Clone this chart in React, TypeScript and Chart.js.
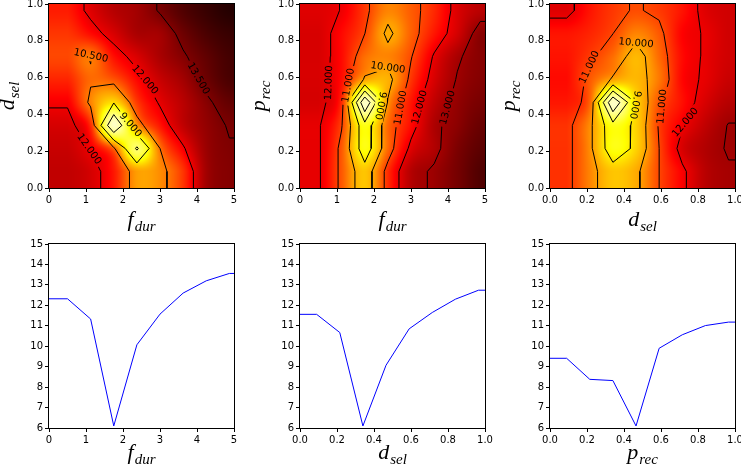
import React, { useEffect, useRef } from 'react';
import { Chart, registerables } from 'chart.js';
Chart.register(...registerables);

// ---------- data ----------
// grid nodes of the explored parameters
const fdurNodes = [0.5, 1.125, 1.75, 2.375, 3.0, 3.625, 4.25, 4.875];
const fracNodes = [0.09, 0.215, 0.34, 0.465, 0.59, 0.715, 0.84, 0.965];

// heat maps: rows = y nodes (bottom -> top), columns = x nodes (left -> right)
const gridFdurDsel = [
  [12.6, 12.34, 11.56, 10.0, 10.2, 11.2, 13.0, 13.4],
  [12.5, 11.95, 10.67, 7.3, 10.5, 11.9, 13.1, 13.45],
  [12.32, 11.33, 6.1, 10.07, 11.57, 12.6, 13.2, 13.56],
  [11.9, 10.3, 9.07, 11.15, 12.1, 12.7, 13.35, 13.9],
  [11.4, 10.6, 10.85, 11.75, 12.5, 13.0, 13.75, 14.3],
  [11.0, 10.45, 11.65, 12.28, 12.9, 13.4, 13.95, 14.4],
  [11.2, 11.7, 12.3, 12.9, 13.0, 13.75, 14.3, 14.6],
  [11.5, 12.2, 12.74, 13.0, 13.58, 14.2, 14.6, 14.9],
];
const gridFdurPrec = [
  [12.1, 10.8, 9.41, 11.3, 12.76, 13.1, 13.6, 14.2],
  [12.1, 10.8, 8.38, 10.6, 12.2, 12.8, 13.5, 14.0],
  [12.1, 11.05, 8.32, 10.6, 11.7, 12.85, 13.3, 13.8],
  [12.32, 11.33, 6.1, 10.07, 11.57, 12.6, 13.2, 13.56],
  [12.3, 11.67, 9.9, 9.7, 11.2, 12.3, 13.05, 13.4],
  [12.3, 11.71, 10.56, 10.3, 10.95, 12.08, 12.9, 13.35],
  [12.3, 11.73, 11.01, 9.8, 10.7, 11.56, 12.35, 13.33],
  [12.2, 11.98, 11.18, 10.3, 10.75, 11.35, 12.25, 12.7],
];
const gridDselPrec = [
  [11.25, 10.3, 9.41, 9.8, 11.0, 11.85, 12.7, 12.95],
  [11.25, 10.2, 8.38, 9.2, 11.0, 12.3, 12.8, 13.05],
  [11.25, 10.2, 8.32, 9.2, 11.1, 11.95, 12.6, 13.03],
  [11.56, 10.67, 6.1, 9.07, 10.85, 11.65, 12.3, 12.74],
  [11.7, 10.8, 9.9, 9.6, 10.43, 11.75, 12.1, 12.5],
  [11.6, 11.16, 10.56, 9.6, 10.6, 11.7, 12.08, 12.4],
  [11.6, 11.4, 11.01, 10.3, 10.8, 11.8, 12.05, 12.4],
  [12.2, 11.6, 11.18, 10.93, 11.15, 11.6, 12.2, 12.4],
];

const levelsFdurDsel = [6.0, 7.5, 9.0, 10.5, 12.0, 13.5];
const levelsFdurPrec = [7, 8, 9, 10, 11, 12, 13];
const levelsDselPrec = [7, 8, 9, 10, 11, 12, 13];

// contour label anchors: [level, x, y, rotation in degrees]
const labelsFdurDsel = [
  [10.5, 1.14, 0.72, 12], [12, 2.41, 0.567, 50], [13.5, 4.03, 0.594, 60],
  [12, 1.14, 0.22, 55], [9, 2.18, 0.34, 50],
];
const labelsFdurPrec = [
  [12, 0.67, 0.576, -88], [11, 1.16, 0.567, -80], [10, 2.36, 0.7, 8], [9, 2.25, 0.44, 100],
  [11, 2.65, 0.44, -80], [12, 3.17, 0.44, -75], [13, 3.95, 0.44, -75],
];
const labelsDselPrec = [
  [10, 0.46, 0.81, 5], [11, 0.205, 0.66, -65], [9, 0.47, 0.45, 100],
  [11, 0.616, 0.44, -85], [12, 0.777, 0.335, -50],
];

// profiles through the optimum (bottom row)
const profileFdur = [12.32, 11.33, 6.1, 10.07, 11.57, 12.6, 13.2, 13.56];
const profileDsel = [11.56, 10.67, 6.1, 9.07, 10.85, 11.65, 12.3, 12.74];
const profilePrec = [9.41, 8.38, 8.32, 6.1, 9.9, 10.56, 11.01, 11.18];

// value -> position in the (reversed) "hot" colour map
const colorValues = [6, 8, 10, 12, 13.5, 15];
const colorPositions = [0.95, 0.8, 0.6, 0.34, 0.17, 0.03];

// ---------- layout ----------
const L = 58, T = 12, R = 14, B = 46, PW = 185, PH = 184;
const colLefts = [49, 300, 550];
const rowTops = [4, 244];
const TICK_FONT = { family: 'DejaVu Sans', size: 10 };
const LABEL_FONT = '10px "DejaVu Sans"';

// ---------- helpers ----------
const clamp = (v, a, b) => Math.max(a, Math.min(b, v));

function hot(t) {
  const r = t < 0.365079 ? 0.0416 + (1 - 0.0416) * t / 0.365079 : 1;
  const g = t < 0.365079 ? 0 : t < 0.746032 ? (t - 0.365079) / (0.746032 - 0.365079) : 1;
  const b = t < 0.746032 ? 0 : (t - 0.746032) / (1 - 0.746032);
  return [r * 255, g * 255, b * 255];
}

function colorPos(v) {
  if (v <= colorValues[0]) return colorPositions[0];
  for (let i = 1; i < colorValues.length; i++) {
    if (v <= colorValues[i]) {
      const t = (v - colorValues[i - 1]) / (colorValues[i] - colorValues[i - 1]);
      return colorPositions[i - 1] + t * (colorPositions[i] - colorPositions[i - 1]);
    }
  }
  return colorPositions[colorPositions.length - 1];
}

function cubic(p0, p1, p2, p3, t) {
  return p1 + 0.5 * t * (p2 - p0 + t * (2 * p0 - 5 * p1 + 4 * p2 - p3 + t * (3 * (p1 - p2) + p3 - p0)));
}

function sample(grid, fx, fy) {
  const ny = grid.length, nx = grid[0].length;
  fx = clamp(fx, 0, nx - 1);
  fy = clamp(fy, 0, ny - 1);
  const ix = Math.min(Math.floor(fx), nx - 2), iy = Math.min(Math.floor(fy), ny - 2);
  const tx = fx - ix, ty = fy - iy;
  const g = (j, i) => grid[clamp(j, 0, ny - 1)][clamp(i, 0, nx - 1)];
  const rows = [];
  for (let m = -1; m <= 2; m++) {
    rows.push(cubic(g(iy + m, ix - 1), g(iy + m, ix), g(iy + m, ix + 1), g(iy + m, ix + 2), tx));
  }
  return cubic(rows[0], rows[1], rows[2], rows[3], ty);
}

function chain(segs) {
  const key = (p) => p[0].toFixed(9) + ',' + p[1].toFixed(9);
  const map = new Map();
  segs.forEach((s, i) => {
    for (const p of s) {
      const k = key(p);
      if (!map.has(k)) map.set(k, []);
      map.get(k).push(i);
    }
  });
  const used = new Array(segs.length).fill(false);
  const lines = [];
  for (let i = 0; i < segs.length; i++) {
    if (used[i]) continue;
    used[i] = true;
    const line = [segs[i][0], segs[i][1]];
    const extend = (atEnd) => {
      for (;;) {
        const p = atEnd ? line[line.length - 1] : line[0];
        const cands = (map.get(key(p)) || []).filter((k) => !used[k]);
        if (!cands.length) break;
        const k = cands[0];
        used[k] = true;
        const s = segs[k];
        const other = key(s[0]) === key(p) ? s[1] : s[0];
        if (atEnd) line.push(other); else line.unshift(other);
      }
    };
    extend(true);
    extend(false);
    lines.push(line);
  }
  return lines;
}

function contourLines(xs, ys, z, level) {
  const segs = [];
  const ip = (x1, y1, v1, x2, y2, v2) => {
    const t = (level - v1) / (v2 - v1);
    return [x1 + t * (x2 - x1), y1 + t * (y2 - y1)];
  };
  for (let j = 0; j < ys.length - 1; j++) {
    for (let i = 0; i < xs.length - 1; i++) {
      const v0 = z[j][i], v1 = z[j][i + 1], v2 = z[j + 1][i + 1], v3 = z[j + 1][i];
      const s0 = v0 >= level, s1 = v1 >= level, s2 = v2 >= level, s3 = v3 >= level;
      const e = [null, null, null, null];
      if (s0 !== s1) e[0] = ip(xs[i], ys[j], v0, xs[i + 1], ys[j], v1);
      if (s1 !== s2) e[1] = ip(xs[i + 1], ys[j], v1, xs[i + 1], ys[j + 1], v2);
      if (s3 !== s2) e[2] = ip(xs[i], ys[j + 1], v3, xs[i + 1], ys[j + 1], v2);
      if (s0 !== s3) e[3] = ip(xs[i], ys[j], v0, xs[i], ys[j + 1], v3);
      const idx = [0, 1, 2, 3].filter((k) => e[k]);
      if (idx.length === 2) segs.push([e[idx[0]], e[idx[1]]]);
      else if (idx.length === 4) {
        const c = (v0 + v1 + v2 + v3) / 4;
        if ((c >= level) === s0) { segs.push([e[0], e[1]]); segs.push([e[2], e[3]]); }
        else { segs.push([e[3], e[0]]); segs.push([e[1], e[2]]); }
      }
    }
  }
  return chain(segs);
}

function drawMath(ctx, main, sub, x, y, vertical) {
  ctx.save();
  ctx.fillStyle = '#000';
  ctx.textAlign = 'left';
  ctx.textBaseline = 'alphabetic';
  ctx.translate(x, y);
  if (vertical) ctx.rotate(-Math.PI / 2);
  const fm = 'italic 22px "Liberation Serif"', fs = 'italic 15px "Liberation Serif"';
  ctx.font = fm;
  const wm = ctx.measureText(main).width;
  ctx.font = fs;
  const ws = ctx.measureText(sub).width;
  const start = -(wm + ws + 1) / 2;
  ctx.font = fm;
  ctx.fillText(main, start, 0);
  ctx.font = fs;
  ctx.fillText(sub, start + wm + 1, 4.5);
  ctx.restore();
}

function axis(pos, min, max, step, fmt) {
  return {
    type: 'linear', position: pos, min, max,
    ticks: { stepSize: step, callback: (v) => fmt(v), color: '#000', font: TICK_FONT, padding: 2, maxRotation: 0, autoSkip: false },
    grid: { display: true, drawOnChartArea: false, drawTicks: true, tickLength: 4, tickColor: '#000', color: '#000' },
    border: { display: false },
    afterFit: (s) => { if (pos === 'left') s.width = L; else s.height = B; },
  };
}

const fmtInt = (v) => String(Math.round(v));
const fmt1 = (v) => Number(v).toFixed(1);

function framePlugin(xTitle, yTitle, xTitleOffset) {
  return {
    id: 'frameTitles',
    afterDraw(chart) {
      const { ctx, chartArea: a } = chart;
      ctx.save();
      ctx.strokeStyle = '#000';
      ctx.lineWidth = 1;
      ctx.strokeRect(Math.round(a.left) - 0.5, Math.round(a.top) - 0.5, Math.round(a.right - a.left) + 1, Math.round(a.bottom - a.top) + 1);
      ctx.restore();
      const cx = (a.left + a.right) / 2, cy = (a.top + a.bottom) / 2;
      if (xTitle) drawMath(ctx, xTitle[0], xTitle[1], cx, a.bottom + xTitleOffset, false);
      if (yTitle) drawMath(ctx, yTitle[0], yTitle[1], a.left - 35, cy, true);
    },
  };
}

function heatConfig(spec) {
  const { xNodes, yNodes, grid, levels, labels, xMax, xStep, xFmt, xTitle, yTitle } = spec;
  const xs = [0, ...xNodes, xMax];
  const ys = [0, ...yNodes, 1];
  const padded = [grid[0], ...grid, grid[grid.length - 1]].map((r) => [r[0], ...r, r[r.length - 1]]);
  const lines = levels.map((lev) => contourLines(xs, ys, padded, lev));
  const datasets = [];
  lines.forEach((ls, k) => ls.forEach((ln) => datasets.push({
    label: String(levels[k]),
    data: ln.map((p) => ({ x: p[0], y: p[1] })),
    showLine: true, borderColor: '#000', borderWidth: 1, pointRadius: 0, fill: false, tension: 0,
  })));
  let placed = [];
  const dx = xNodes[1] - xNodes[0], dy = yNodes[1] - yNodes[0];
  const heatPlugin = {
    id: 'heat',
    beforeDatasetsDraw(chart) {
      const { ctx, chartArea: a, scales } = chart;
      const xS = scales.x, yS = scales.y;
      const w = Math.round(a.right - a.left), h = Math.round(a.bottom - a.top);
      const off = document.createElement('canvas');
      off.width = w; off.height = h;
      const octx = off.getContext('2d');
      const img = octx.createImageData(w, h);
      for (let py = 0; py < h; py++) {
        const yv = yS.getValueForPixel(a.top + py + 0.5);
        const fy = (yv - yNodes[0]) / dy;
        for (let px = 0; px < w; px++) {
          const xv = xS.getValueForPixel(a.left + px + 0.5);
          const fx = (xv - xNodes[0]) / dx;
          const v = sample(grid, fx, fy);
          const c = hot(clamp(colorPos(v), 0, 1));
          const o = (py * w + px) * 4;
          img.data[o] = c[0]; img.data[o + 1] = c[1]; img.data[o + 2] = c[2]; img.data[o + 3] = 255;
        }
      }
      octx.putImageData(img, 0, 0);
      ctx.drawImage(off, a.left, a.top);
      // label placement snapped onto the contour of the same level
      ctx.save();
      ctx.font = LABEL_FONT;
      placed = labels.map(([lev, lx, ly, rot]) => {
        const tx = xS.getPixelForValue(lx), ty = yS.getPixelForValue(ly);
        let best = null, bd = 24 * 24;
        const k = levels.indexOf(lev);
        for (const ln of lines[k] || []) {
          for (let i = 0; i < ln.length - 1; i++) {
            const ax = xS.getPixelForValue(ln[i][0]), ay = yS.getPixelForValue(ln[i][1]);
            const bx = xS.getPixelForValue(ln[i + 1][0]), by = yS.getPixelForValue(ln[i + 1][1]);
            const ddx = bx - ax, ddy = by - ay, l2 = ddx * ddx + ddy * ddy;
            const t = l2 ? clamp(((tx - ax) * ddx + (ty - ay) * ddy) / l2, 0, 1) : 0;
            const qx = ax + t * ddx, qy = ay + t * ddy;
            const d = (qx - tx) ** 2 + (qy - ty) ** 2;
            if (d < bd) { bd = d; best = [qx, qy]; }
          }
        }
        const [px, py] = best || [tx, ty];
        const text = lev.toFixed(3);
        return { px, py, ang: rot * Math.PI / 180, text, w: ctx.measureText(text).width };
      });
      ctx.restore();
    },
    beforeDatasetDraw(chart) {
      const { ctx, chartArea: a } = chart;
      ctx.save();
      ctx.beginPath();
      ctx.rect(a.left, a.top, a.right - a.left, a.bottom - a.top);
      for (const p of placed) {
        const hw = p.w / 2 + 2.5, hh = 5.5;
        const c = Math.cos(p.ang), s = Math.sin(p.ang);
        const pts = [[-hw, -hh], [hw, -hh], [hw, hh], [-hw, hh]].map(([u, v]) => [p.px + u * c - v * s, p.py + u * s + v * c]);
        ctx.moveTo(pts[0][0], pts[0][1]);
        for (let i = 1; i < 4; i++) ctx.lineTo(pts[i][0], pts[i][1]);
        ctx.closePath();
      }
      ctx.clip('evenodd');
    },
    afterDatasetDraw(chart) {
      chart.ctx.restore();
    },
    afterDatasetsDraw(chart) {
      const { ctx } = chart;
      for (const p of placed) {
        ctx.save();
        ctx.translate(p.px, p.py);
        ctx.rotate(p.ang);
        ctx.font = LABEL_FONT;
        ctx.fillStyle = '#000';
        ctx.textAlign = 'center';
        ctx.textBaseline = 'middle';
        ctx.fillText(p.text, 0, 0);
        ctx.restore();
      }
    },
  };
  return {
    type: 'scatter',
    data: { datasets },
    options: {
      responsive: false, animation: false, devicePixelRatio: 1, events: [],
      layout: { padding: { top: T, right: R, left: 0, bottom: 0 } },
      plugins: { legend: { display: false }, tooltip: { enabled: false } },
      scales: {
        x: axis('bottom', 0, xMax, xStep, xFmt),
        y: axis('left', 0, 1, 0.2, fmt1),
      },
    },
    plugins: [heatPlugin, framePlugin(xTitle, yTitle, 38)],
  };
}

function lineConfig(spec) {
  const { nodes, values, xMax, xStep, xFmt, xTitle } = spec;
  const xs = [0, ...nodes, xMax];
  const ys = [values[0], ...values, values[values.length - 1]];
  return {
    type: 'scatter',
    data: {
      datasets: [{
        data: xs.map((x, i) => ({ x, y: ys[i] })),
        showLine: true, borderColor: '#0000ff', borderWidth: 1, pointRadius: 0, fill: false, tension: 0,
      }],
    },
    options: {
      responsive: false, animation: false, devicePixelRatio: 1, events: [],
      layout: { padding: { top: T, right: R, left: 0, bottom: 0 } },
      plugins: { legend: { display: false }, tooltip: { enabled: false } },
      scales: {
        x: axis('bottom', 0, xMax, xStep, xFmt),
        y: axis('left', 6, 15, 1, fmtInt),
      },
    },
    plugins: [framePlugin(xTitle, null, 31)],
  };
}

const panels = [
  { left: colLefts[0], top: rowTops[0], make: () => heatConfig({ xNodes: fdurNodes, yNodes: fracNodes, grid: gridFdurDsel, levels: levelsFdurDsel, labels: labelsFdurDsel, xMax: 5, xStep: 1, xFmt: fmtInt, xTitle: ['f', 'dur'], yTitle: ['d', 'sel'] }) },
  { left: colLefts[1], top: rowTops[0], make: () => heatConfig({ xNodes: fdurNodes, yNodes: fracNodes, grid: gridFdurPrec, levels: levelsFdurPrec, labels: labelsFdurPrec, xMax: 5, xStep: 1, xFmt: fmtInt, xTitle: ['f', 'dur'], yTitle: ['p', 'rec'] }) },
  { left: colLefts[2], top: rowTops[0], make: () => heatConfig({ xNodes: fracNodes, yNodes: fracNodes, grid: gridDselPrec, levels: levelsDselPrec, labels: labelsDselPrec, xMax: 1, xStep: 0.2, xFmt: fmt1, xTitle: ['d', 'sel'], yTitle: ['p', 'rec'] }) },
  { left: colLefts[0], top: rowTops[1], make: () => lineConfig({ nodes: fdurNodes, values: profileFdur, xMax: 5, xStep: 1, xFmt: fmtInt, xTitle: ['f', 'dur'] }) },
  { left: colLefts[1], top: rowTops[1], make: () => lineConfig({ nodes: fracNodes, values: profileDsel, xMax: 1, xStep: 0.2, xFmt: fmt1, xTitle: ['d', 'sel'] }) },
  { left: colLefts[2], top: rowTops[1], make: () => lineConfig({ nodes: fracNodes, values: profilePrec, xMax: 1, xStep: 0.2, xFmt: fmt1, xTitle: ['p', 'rec'] }) },
];

function Panel({ left, top, make }) {
  const ref = useRef(null);
  useEffect(() => {
    const chart = new Chart(ref.current, make());
    return () => chart.destroy();
  }, []);
  const W = L + PW + R, H = T + PH + B;
  return (
    <canvas ref={ref} width={W} height={H}
      style={{ position: 'absolute', left: left - L, top: top - T, width: W, height: H }} />
  );
}

export default function App() {
  return (
    <div style={{ position: 'fixed', left: 0, top: 0, width: 741, height: 471, overflow: 'hidden', background: '#fff' }}>
      {panels.map((p, i) => <Panel key={i} left={p.left} top={p.top} make={p.make} />)}
    </div>
  );
}
